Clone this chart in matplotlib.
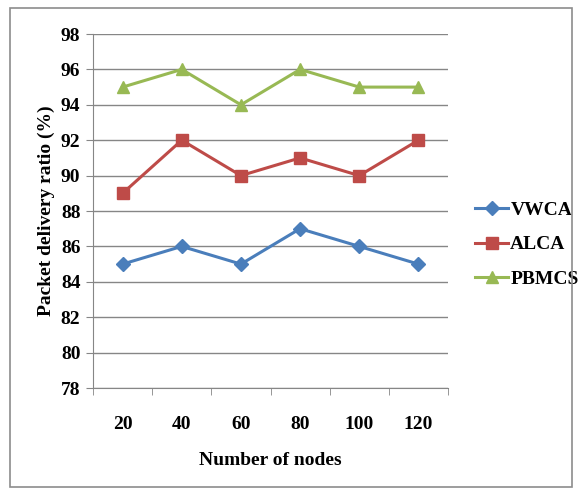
import matplotlib
matplotlib.use("Agg")
import matplotlib.pyplot as plt
from matplotlib.patches import Rectangle

nodes = ["20", "40", "60", "80", "100", "120"]
vwca = [85, 86, 85, 87, 86, 85]
alca = [89, 92, 90, 91, 90, 92]
pbmcs = [95, 96, 94, 96, 95, 95]
yticks = [78, 80, 82, 84, 86, 88, 90, 92, 94, 96, 98]

plt.rcParams['font.family'] = ['Liberation Serif', 'DejaVu Serif']
plt.rcParams['font.weight'] = 'bold'

fig = plt.figure(figsize=(5.82, 4.95), dpi=100)
fig.patches.append(Rectangle((10/582, 1-487/495), 562/582, 479/495, transform=fig.transFigure,
                             fill=False, edgecolor='#8c8c8c', linewidth=1.2))
ax = fig.add_axes([93/582, 1-388/495, 355/582, 354/495])
x = list(range(len(nodes)))
ax.plot(x, vwca, color='#4A7EBB', marker='D', markersize=7, linewidth=2.2, label='VWCA')
ax.plot(x, alca, color='#BE4B48', marker='s', markersize=9, linewidth=2.2, label='ALCA')
ax.plot(x, pbmcs, color='#98B954', marker='^', markersize=9, linewidth=2.2, label='PBMCS')

ax.set_xlim(-0.5, len(nodes) - 0.5)
ax.set_ylim(78, 98)
ax.set_yticks(yticks)
ax.set_yticklabels([str(v) for v in yticks])
ax.set_xticks(x)
ax.set_xticklabels(nodes)
ax.set_xticks([i - 0.5 for i in range(len(nodes) + 1)], minor=True)
ax.tick_params(axis='x', which='major', length=0, pad=20, labelsize=14)
ax.tick_params(axis='x', which='minor', length=5, color='#868686')
ax.tick_params(axis='y', length=5, color='#868686', labelsize=14, pad=4)
ax.grid(axis='y', color='#868686', linewidth=1)
ax.set_axisbelow(True)
for s in ['top', 'right']:
    ax.spines[s].set_visible(False)
for s in ['left', 'bottom']:
    ax.spines[s].set_color('#868686')
ax.set_xlabel('Number of nodes', fontsize=14, fontweight='bold', labelpad=14)
ax.set_ylabel('Packet delivery ratio (%)', fontsize=14, fontweight='bold', labelpad=4)

ax.legend(loc='center left', bbox_to_anchor=(1.055, 0.405), frameon=False, fontsize=14,
          handlelength=1.7, handletextpad=0.1, labelspacing=0.85, borderaxespad=0)

fig.savefig('out.png', dpi=100)
